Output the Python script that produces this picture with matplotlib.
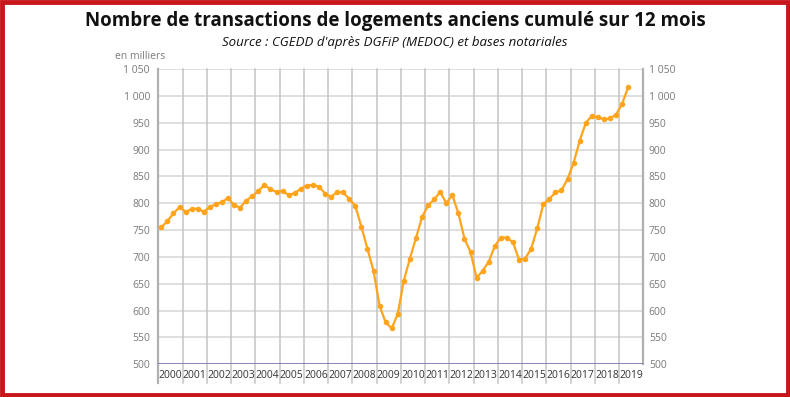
import pandas as pd
import matplotlib.pyplot as plt
from matplotlib.patches import Rectangle

plt.rcParams['font.family'] = ['Open Sans', 'DejaVu Sans']

# quarterly cumulated transactions (thousands), 2000Q1 .. 2019Q2
values = [
	755, 767, 781, 793, 784, 789, 790, 784, 793, 798, 802, 810, 796, 792, 805, 813, 823, 834,
	826, 821, 823, 815, 819, 827, 833, 834, 831, 818, 812, 821, 820, 808, 795, 756, 715,
	674, 609, 578, 567, 594, 656, 697, 735, 774, 796, 807, 821, 800, 815, 781, 734, 709,
	661, 674, 691, 720, 736, 736, 727, 695, 697, 715, 753, 798, 808, 820, 824, 845,
	875, 916, 949, 963, 960, 956, 958, 965, 985, 1016,
]
periods = pd.period_range('2000Q1', periods=len(values), freq='Q')
years = list(range(2000, 2020))
yticks = list(range(500, 1051, 50))

# x position: middle of each quarter
x = [p.year + (p.quarter - 0.5) / 4 for p in periods]

fig = plt.figure(figsize=(7.9, 3.97), dpi=100)
ax = fig.add_axes([0.2004, 0.0824, 0.6139, 0.7438])

ax.set_xlim(2000, 2020)
ax.set_ylim(500, 1050)

# grid
for v in yticks:
	ax.axhline(v, color='#dcdcdc', lw=1.3, zorder=1)
for yr in years[1:]:
	ax.plot([yr, yr], [-0.065, 1], color='#c4c4c4', lw=1.1,
			transform=ax.get_xaxis_transform(), clip_on=False, zorder=1)

ax.plot(x, values, color='#ffa41c', lw=1.6, marker='o', markersize=4,
		markeredgewidth=0, zorder=3)

# axis line at 500
ax.axhline(500, color='#6c6cb0', lw=1.8, zorder=4)

for s in ['top', 'bottom']:
	ax.spines[s].set_visible(False)
ax.spines['left'].set_color('#b0b0b0')
ax.spines['left'].set_linewidth(1.6)
ax.spines['left'].set_bounds(500, 1050)
ax.plot([2000, 2000], [-0.065, 0], color='#b0b0b0', lw=1.6,
		transform=ax.get_xaxis_transform(), clip_on=False)
ax.spines['right'].set_color('#b0b0b0')
ax.spines['right'].set_linewidth(1.6)

def fmt(v):
	return f'{v:,}'.replace(',', ' ')

ax.set_yticks(yticks)
ax.set_yticklabels([fmt(v) for v in yticks])
ax.tick_params(axis='y', length=0, pad=6, labelsize=7.5, labelcolor='#7a7a7a')

ax2 = ax.twinx()
ax2.set_ylim(500, 1050)
ax2.set_yticks(yticks)
ax2.set_yticklabels([fmt(v) for v in yticks])
ax2.tick_params(axis='y', length=0, pad=4, labelsize=7.5, labelcolor='#7a7a7a')
for s in ax2.spines.values():
	s.set_visible(False)

ax.set_xticks([yr + 0.5 for yr in years])
ax.set_xticklabels([str(yr) for yr in years])
ax.tick_params(axis='x', length=0, pad=4, labelsize=7.5, labelcolor='#333333')

fig.text(0.146, 0.858, 'en milliers', fontsize=7.5, color='#7a7a7a', ha='left', va='center')

fig.text(0.5, 0.948, 'Nombre de transactions de logements anciens cumulé sur 12 mois',
		 ha='center', va='center', fontsize=13.5, fontweight='bold', color='#111111')
fig.text(0.5, 0.893, "Source : CGEDD d'après DGFiP (MEDOC) et bases notariales",
		 ha='center', va='center', fontsize=9.5, fontstyle='italic', color='#111111')

# red frame
fig.patches.append(Rectangle((0.002, 0.004), 0.996, 0.992, transform=fig.transFigure,
							 fill=False, edgecolor='#c8161d', lw=3.5))

fig.savefig('out.png', dpi=100)
